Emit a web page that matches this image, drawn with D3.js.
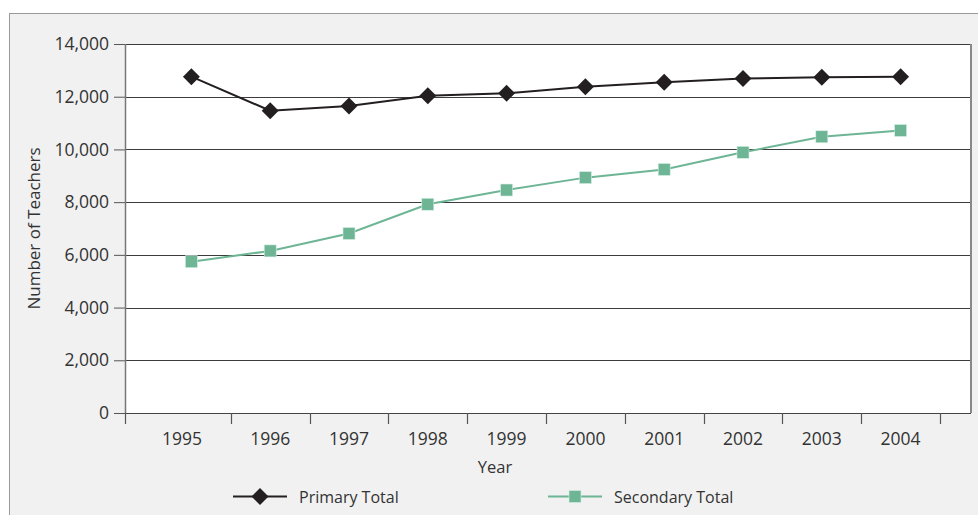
<!DOCTYPE html>
<html><head><meta charset="utf-8">
<script src="https://cdn.jsdelivr.net/npm/d3@7"></script>
<style>body{margin:0;background:#fff;}svg{display:block;}text{font-family:"Open Sans","Noto Sans",sans-serif;fill:#333;}</style>
</head><body>
<script>
const years = ["1995","1996","1997","1998","1999","2000","2001","2002","2003","2004"];
const primaryTotal = [12760, 11470, 11650, 12040, 12130, 12380, 12550, 12690, 12740, 12760];
const secondaryTotal = [5740, 6150, 6810, 7920, 8460, 8930, 9240, 9890, 10480, 10720];
const yTicks = [0, 2000, 4000, 6000, 8000, 10000, 12000, 14000];
const seriesNames = ["Primary Total", "Secondary Total"];

const W = 978, H = 515;
const svg = d3.select("body").append("svg").attr("width", W).attr("height", H);

// outer panel
svg.append("rect").attr("x", 9.5).attr("y", 13.5).attr("width", 1000).attr("height", 600)
  .attr("fill", "#f1f1f1").attr("stroke", "#9a9a9a").attr("stroke-width", 1);

const plot = {left: 125, right: 971, top: 44, bottom: 413};
svg.append("rect").attr("x", plot.left).attr("y", plot.top)
  .attr("width", plot.right - plot.left).attr("height", plot.bottom - plot.top).attr("fill", "#fff");

const x = d3.scaleBand().domain(years).range([152, 940]);
const y = d3.scaleLinear().domain([0, 14000]).range([plot.bottom, plot.top]);

// gridlines
svg.append("g").selectAll("line").data(yTicks.filter(d => d > 0)).join("line")
  .attr("x1", plot.left).attr("x2", plot.right)
  .attr("y1", d => Math.round(y(d)) + 0.5).attr("y2", d => Math.round(y(d)) + 0.5)
  .attr("stroke", "#3c3c3c").attr("stroke-width", 1);

// y axis
const yAxis = svg.append("g").attr("transform", `translate(${plot.left},0)`)
  .call(d3.axisLeft(y).tickValues(yTicks).tickFormat(d3.format(",")).tickSize(11).tickPadding(5));
yAxis.select(".domain").remove();
yAxis.selectAll(".tick line").attr("stroke", "#555");
yAxis.selectAll(".tick text").attr("font-size", 17.5).attr("fill", "#333");
svg.append("line").attr("x1", plot.left + 0.5).attr("x2", plot.left + 0.5)
  .attr("y1", plot.top).attr("y2", plot.bottom).attr("stroke", "#777").attr("stroke-width", 1.5);
svg.append("line").attr("x1", plot.right).attr("x2", plot.right)
  .attr("y1", plot.top).attr("y2", plot.bottom).attr("stroke", "#888").attr("stroke-width", 2);

// x axis
svg.append("line").attr("x1", plot.left).attr("x2", plot.right)
  .attr("y1", plot.bottom + 0.5).attr("y2", plot.bottom + 0.5).attr("stroke", "#444").attr("stroke-width", 1.2);
const boundaries = [plot.left].concat(years.slice(1).map(d => x(d))).concat([x.range()[1]]);
svg.append("g").selectAll("line").data(boundaries).join("line")
  .attr("x1", d => Math.round(d) + 0.5).attr("x2", d => Math.round(d) + 0.5)
  .attr("y1", plot.bottom).attr("y2", plot.bottom + 11).attr("stroke", "#555").attr("stroke-width", 1.2);
svg.append("g").selectAll("text").data(years).join("text")
  .attr("x", (d, i) => i === 0 ? (plot.left + x(years[1])) / 2 + 4 : x(d) + x.bandwidth() / 2)
  .attr("y", 445).attr("text-anchor", "middle").attr("font-size", 17.5).text(d => d);

// axis titles
svg.append("text").attr("x", 495).attr("y", 473).attr("text-anchor", "middle").attr("font-size", 16.5).text("Year");
svg.append("text").attr("transform", `translate(40,${(plot.top + plot.bottom) / 2}) rotate(-90)`)
  .attr("text-anchor", "middle").attr("font-size", 17).text("Number of Teachers");

const cx = d => x(d) + x.bandwidth() / 2;
const colors = ["#231f20", "#6db595"];

function drawSeries(vals, color, marker) {
  const line = d3.line().x((d, i) => cx(years[i])).y(d => y(d));
  svg.append("path").datum(vals).attr("d", line).attr("fill", "none").attr("stroke", color).attr("stroke-width", 2);
  const g = svg.append("g");
  vals.forEach((v, i) => marker(g, cx(years[i]), y(v), color));
}
function diamondMarker(g, px, py, color) {
  g.append("rect").attr("x", -6).attr("y", -6).attr("width", 12).attr("height", 12)
    .attr("transform", `translate(${px},${py}) rotate(45)`).attr("fill", color);
}
function squareMarker(g, px, py, color) {
  g.append("rect").attr("x", px - 6).attr("y", py - 6).attr("width", 12).attr("height", 12)
    .attr("fill", color).attr("stroke", "#d8eee4").attr("stroke-width", 0.6);
}
drawSeries(secondaryTotal, colors[1], squareMarker);
drawSeries(primaryTotal, colors[0], diamondMarker);

// legend
const legend = [{name: seriesNames[0], color: colors[0], marker: diamondMarker, x: 233},
                {name: seriesNames[1], color: colors[1], marker: squareMarker, x: 548}];
legend.forEach(l => {
  const ly = 496.5;
  svg.append("line").attr("x1", l.x).attr("x2", l.x + 54).attr("y1", ly).attr("y2", ly)
    .attr("stroke", l.color).attr("stroke-width", 2);
  l.marker(svg, l.x + 27, ly, l.color);
  svg.append("text").attr("x", l.x + 66).attr("y", ly + 6).attr("font-size", 16).text(l.name);
});
</script>
</body></html>
